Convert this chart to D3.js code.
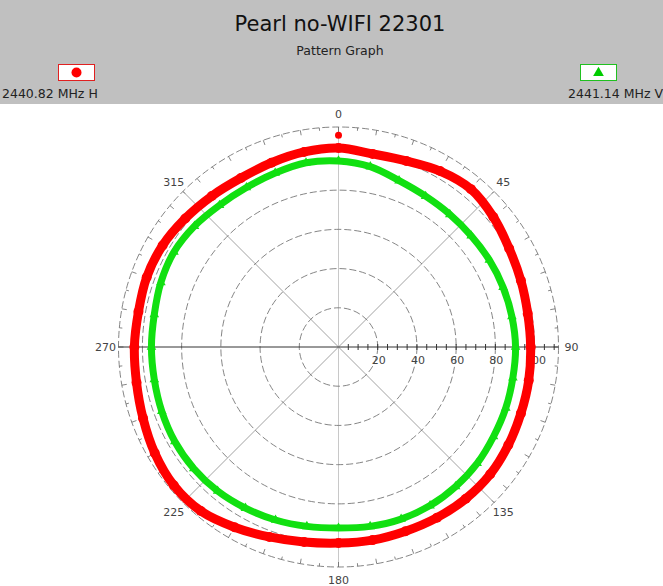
<!DOCTYPE html>
<html><head><meta charset="utf-8">
<script src="https://cdn.jsdelivr.net/npm/d3@7"></script>
<style>body{margin:0;background:#fff}svg{display:block}</style>
</head><body>
<script>
const title = "Pearl no-WIFI 22301";
const subtitle = "Pattern Graph";
const seriesNames = ["2440.82 MHz H", "2441.14 MHz V"];
const angles = d3.range(0, 360, 10);
const redValues = [101.5,100,101,103.6,105.1,103.1,100.5,99,98,98,98.5,99,100,101,101,100.5,100,100,100,101,103.1,106.1,109.2,109.7,108.2,106.1,104.6,104.1,103.6,104.1,103.6,102,100.5,99.5,100,101];
const greenValues = [94.9,93.4,90.3,88.8,88.3,88.3,88.8,89.3,89.8,90.3,90.3,90.8,91.3,92.3,92.9,93.4,93.4,92.9,92.3,92.9,93.9,94.9,95.9,96.4,96.4,95.9,95.4,95.4,95.4,96.4,96.9,95.9,94.4,93.9,94.4,95.4];
const peakMarker = {angle: 0, value: 108};
const ringValues = [20, 40, 60, 80, 100];
const radialTickLabels = [20, 40, 60, 80, 100];
const angleLabels = [0, 45, 90, 135, 180, 225, 270, 315];
const rMax = 112.2;

const W = 663, H = 586;
const svg = d3.select("body").append("svg").attr("width", W).attr("height", H);
const font = "DejaVu Sans, Verdana, sans-serif";

// header
svg.append("rect").attr("x",0).attr("y",0).attr("width",W).attr("height",104).attr("fill","#c0c0c0");
svg.append("text").attr("x",340).attr("y",31).attr("text-anchor","middle").attr("font-family",font).attr("font-size",21).attr("fill","#111").text(title);
svg.append("text").attr("x",340).attr("y",55).attr("text-anchor","middle").attr("font-family",font).attr("font-size",12.5).attr("fill","#222").text(subtitle);

// legend
const lg = svg.append("g");
lg.append("rect").attr("x",58.5).attr("y",64.5).attr("width",36).attr("height",16).attr("fill","#fff").attr("stroke","#e02020");
lg.append("circle").attr("cx",76.5).attr("cy",72.5).attr("r",5).attr("fill","#ff0000");
lg.append("text").attr("x",2).attr("y",98).attr("font-family",font).attr("font-size",12.5).attr("fill","#222").text(seriesNames[0]);
lg.append("rect").attr("x",580.5).attr("y",64.5).attr("width",36).attr("height",16).attr("fill","#fff").attr("stroke","#20c020");
lg.append("path").attr("d",d3.symbol(d3.symbolTriangle,50)()).attr("transform","translate(598.5,73)").attr("fill","#00cc00");
lg.append("text").attr("x",663).attr("y",98).attr("text-anchor","end").attr("font-family",font).attr("font-size",12.5).attr("fill","#222").text(seriesNames[1]);

// polar
const cx = 338.5, cy = 347;
const r = d3.scaleLinear().domain([0, rMax]).range([0, 220]);
const g = svg.append("g").attr("transform",`translate(${cx},${cy})`);
const rad = a => (a - 90) * Math.PI / 180;
const R = r(rMax);

[45,135,225,315].forEach(a => {
  g.append("line").attr("x1",0).attr("y1",0).attr("x2",R*Math.cos(rad(a))).attr("y2",R*Math.sin(rad(a))).attr("stroke","#8a8a8a").attr("stroke-width",0.8);
});
g.append("line").attr("x1",0).attr("y1",-R).attr("x2",0).attr("y2",R).attr("stroke","#c8c8c8").attr("stroke-width",1);
ringValues.forEach(v => {
  g.append("circle").attr("r",r(v)).attr("fill","none").attr("stroke","#666").attr("stroke-width",0.8).attr("stroke-dasharray","7,3");
});
g.append("circle").attr("r",R).attr("fill","none").attr("stroke","#666").attr("stroke-width",0.8).attr("stroke-dasharray","7,3");
d3.range(0,360,5).forEach(a => {
  const len = a % 10 === 0 ? 5 : 3;
  g.append("line").attr("x1",(R-len)*Math.cos(rad(a))).attr("y1",(R-len)*Math.sin(rad(a)))
   .attr("x2",R*Math.cos(rad(a))).attr("y2",R*Math.sin(rad(a))).attr("stroke","#666").attr("stroke-width",0.8);
});
g.append("line").attr("x1",-R).attr("y1",0).attr("x2",R).attr("y2",0).attr("stroke","#333").attr("stroke-width",1);
d3.range(5, 111, 5).forEach(v => {
  g.append("line").attr("x1",r(v)).attr("x2",r(v)).attr("y1",-3).attr("y2",3).attr("stroke","#333").attr("stroke-width",1);
});
angleLabels.forEach(a => {
  const rr = R + 13;
  g.append("text").attr("x",rr*Math.cos(rad(a))).attr("y",rr*Math.sin(rad(a))+4)
   .attr("text-anchor","middle").attr("font-family",font).attr("font-size",11).attr("fill","#444").text(a);
});

const toPts = vals => angles.map((a,i) => [a*Math.PI/180, r(vals[i])]);
const line = d3.lineRadial().curve(d3.curveCatmullRomClosed);
g.append("path").attr("d",line(toPts(greenValues))).attr("fill","none").attr("stroke","#11e011").attr("stroke-width",7);
const triSym = d3.symbol(d3.symbolTriangle, 40);
angles.forEach((a,i) => {
  const p = d3.pointRadial(a*Math.PI/180, r(greenValues[i]));
  g.append("path").attr("d",triSym()).attr("transform",`translate(${p[0]},${p[1]})`).attr("fill","#11e011");
});

radialTickLabels.forEach(v => {
  g.append("text").attr("x",r(v)+1).attr("y",17).attr("text-anchor","middle").attr("font-family",font).attr("font-size",11).attr("fill","#444").text(v);
});

g.append("path").attr("d",line(toPts(redValues))).attr("fill","none").attr("stroke","#ff0000").attr("stroke-width",9);
angles.forEach((a,i) => {
  const p = d3.pointRadial(a*Math.PI/180, r(redValues[i]));
  g.append("circle").attr("cx",p[0]).attr("cy",p[1]).attr("r",5).attr("fill","#ff0000");
});
const pk = d3.pointRadial(peakMarker.angle*Math.PI/180, r(peakMarker.value));
g.append("circle").attr("cx",pk[0]).attr("cy",pk[1]).attr("r",3.5).attr("fill","#ff0000");
</script>
</body></html>
